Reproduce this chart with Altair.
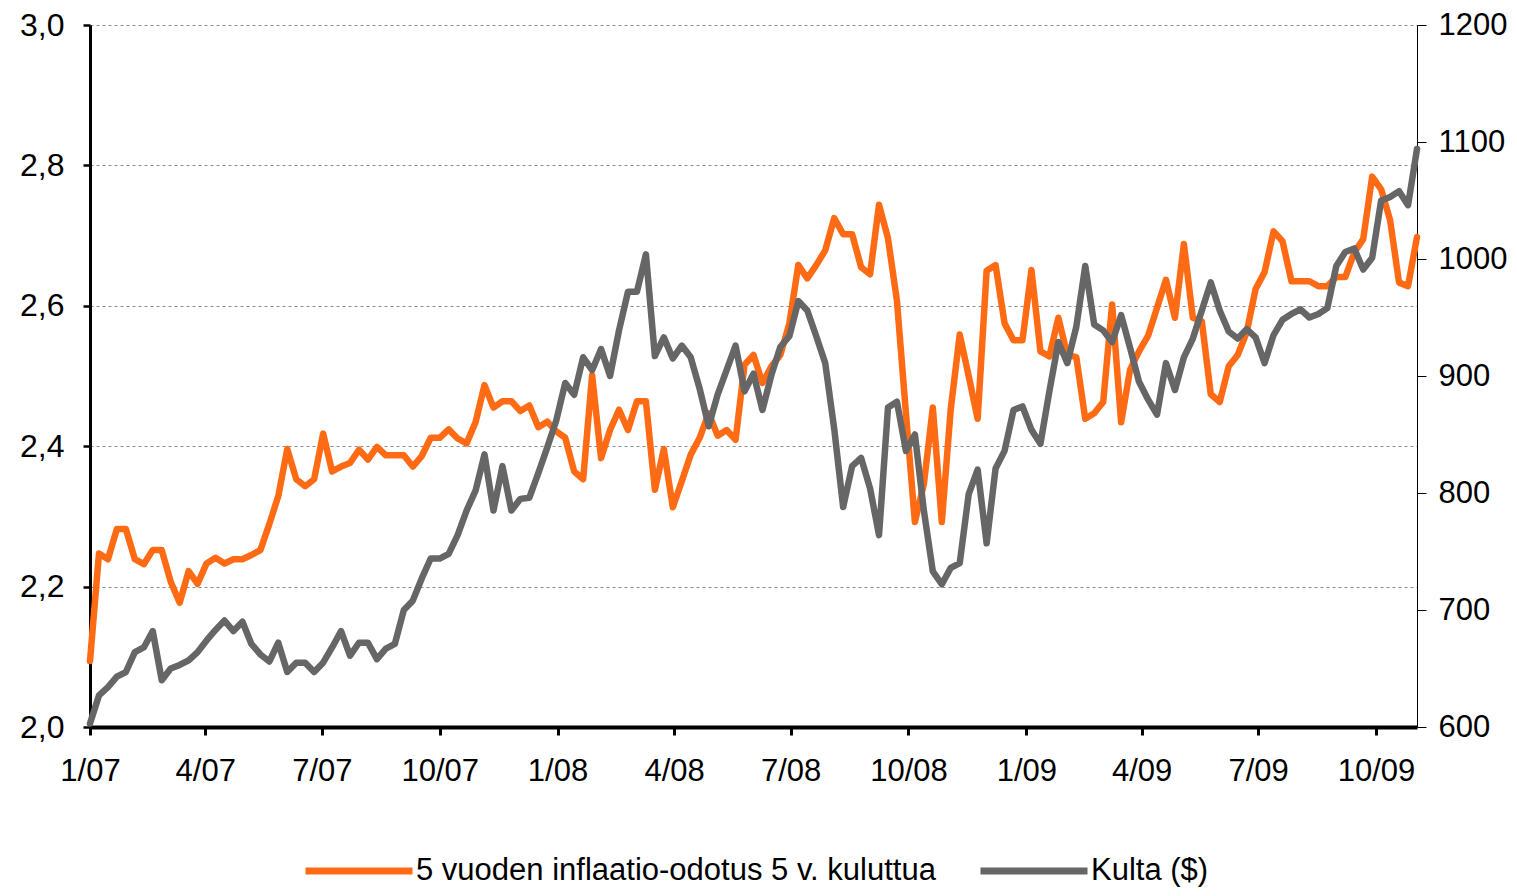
import altair as alt
import pandas as pd

ORANGE_LABEL = "5 vuoden inflaatio-odotus 5 v. kuluttua"
GOLD_LABEL = "Kulta ($)"
ORANGE = "#FF6B14"
GRAY = "#666666"
FONT = "Liberation Sans, Arial, sans-serif"

# 5y5y inflation expectation (%), weekly
inflation = [
    2.094, 2.247, 2.239, 2.282, 2.282, 2.239, 2.232, 2.252, 2.252, 2.207,
    2.177, 2.222, 2.204, 2.233, 2.241, 2.233, 2.239, 2.239, 2.245, 2.252,
    2.289, 2.329, 2.396, 2.353, 2.343, 2.353, 2.418, 2.364, 2.371, 2.376,
    2.395, 2.381, 2.399, 2.387, 2.387, 2.387, 2.371, 2.386, 2.412, 2.412,
    2.424, 2.411, 2.404, 2.434, 2.487, 2.455, 2.464, 2.464, 2.450, 2.458,
    2.427, 2.435, 2.421, 2.412, 2.364, 2.353, 2.501, 2.383, 2.423, 2.452,
    2.423, 2.464, 2.464, 2.338, 2.396, 2.313, 2.350, 2.388, 2.412, 2.447,
    2.415, 2.423, 2.409, 2.516, 2.530, 2.490, 2.514, 2.530, 2.575, 2.658,
    2.639, 2.658, 2.679, 2.725, 2.702, 2.702, 2.655, 2.645, 2.744, 2.696,
    2.607, 2.447, 2.292, 2.346, 2.455, 2.292, 2.453, 2.559, 2.500, 2.439,
    2.650, 2.658, 2.575, 2.551, 2.551, 2.651, 2.535, 2.528, 2.583, 2.530,
    2.527, 2.439, 2.447, 2.463, 2.602, 2.434, 2.509, 2.535, 2.557, 2.597,
    2.637, 2.583, 2.688, 2.583, 2.578, 2.474, 2.463, 2.514, 2.530, 2.562,
    2.624, 2.648, 2.706, 2.692, 2.635, 2.635, 2.635, 2.628, 2.628, 2.641,
    2.641, 2.676, 2.695, 2.784, 2.766, 2.722, 2.633, 2.628, 2.698,
]

# Gold price (USD), weekly
gold = [
    603, 627, 634, 643, 647, 664, 668, 682, 640, 650,
    653, 657, 664, 674, 683, 691, 682, 690, 671, 662,
    656, 672, 647, 655, 655, 647, 655, 668, 682, 661,
    672, 672, 658, 667, 671, 700, 708, 727, 744, 744,
    748, 764, 785, 802, 833, 785, 823, 785, 795, 796,
    817, 839, 862, 894, 884, 916, 905, 923, 900, 939,
    972, 972, 1004, 917, 933, 915, 926, 916, 889, 857,
    884, 905, 926, 887, 902, 871, 901, 925, 934, 964,
    956, 934, 911, 855, 788, 823, 830, 804, 764, 873,
    878, 836, 850, 785, 733, 722, 736, 740, 799, 820,
    757, 821, 836, 871, 874, 854, 842, 887, 929, 911,
    942, 994, 944, 939, 929, 952, 924, 895, 880, 867,
    911, 888, 916, 932, 956, 980, 956, 938, 932, 940,
    933, 911, 935, 948, 953, 957, 950, 953, 958, 994,
    1006, 1009, 991, 1001, 1050, 1053, 1058, 1046, 1094,
]

n = len(inflation)
dates = pd.date_range("2007-01-01", periods=n, freq="7D")
date_str = [d.strftime("%Y-%m-%d") for d in dates]

quarter_ticks = [
    "2007-01-01", "2007-04-01", "2007-07-01", "2007-10-01",
    "2008-01-01", "2008-04-01", "2008-07-01", "2008-10-01",
    "2009-01-01", "2009-04-01", "2009-07-01", "2009-10-01",
]
left_ticks = [2.0, 2.2, 2.4, 2.6, 2.8, 3.0]
right_ticks = [600, 700, 800, 900, 1000, 1100, 1200]


def ms(s):
    return int(pd.Timestamp(s, tz="UTC").timestamp() * 1000)


tick_ms = [ms(t) for t in quarter_ticks]
domain_ms = [ms(date_str[0]), ms(date_str[-1])]

df = pd.DataFrame({
    "date": date_str * 2,
    "series": [ORANGE_LABEL] * n + [GOLD_LABEL] * n,
    "value": inflation + [float(g) for g in gold],
})

legend = alt.Legend(
    title=None, orient="none", legendX=212, legendY=789, direction="horizontal",
    symbolType="stroke", symbolSize=11449, symbolStrokeWidth=7,
    labelFontSize=31, labelFont=FONT, labelColor="black", labelLimit=1000,
    columnPadding=30, labelOffset=0, padding=0,
)

base = alt.Chart(df).encode(
    x=alt.X(
        "date:T",
        scale=alt.Scale(type="utc", domain=domain_ms),
        axis=alt.Axis(
            values=tick_ms, labelExpr="utcFormat(datum.value, '%-m/%y')",
            title=None, grid=False, domainColor="black", domainWidth=4,
            tickColor="black", tickWidth=3, tickSize=8, labelFontSize=31,
            labelFont=FONT, labelColor="black", labelPadding=21,
            labelFlush=False, labelOverlap=False,
        ),
    ),
    color=alt.Color(
        "series:N",
        scale=alt.Scale(domain=[ORANGE_LABEL, GOLD_LABEL], range=[ORANGE, GRAY]),
        legend=legend,
    ),
)

infl_line = base.transform_filter(alt.datum.series == ORANGE_LABEL).mark_line(
    strokeWidth=6.5, strokeJoin="round", strokeCap="round"
).encode(
    y=alt.Y(
        "value:Q",
        scale=alt.Scale(domain=[2.0, 3.0], nice=False, zero=False),
        axis=alt.Axis(
            orient="left", values=left_ticks, title=None,
            labelExpr="replace(format(datum.value, '.1f'), '.', ',')",
            grid=True, gridColor="#8c8c8c", gridDash=[3, 3], gridWidth=1,
            domainColor="black", domainWidth=3, tickColor="black", tickWidth=2.5,
            tickSize=7, labelFontSize=32, labelFont=FONT, labelColor="black",
            labelPadding=19,
        ),
    )
)

gold_line = base.transform_filter(alt.datum.series == GOLD_LABEL).mark_line(
    strokeWidth=6.5, strokeJoin="round", strokeCap="round"
).encode(
    y=alt.Y(
        "value:Q",
        scale=alt.Scale(domain=[600, 1200], nice=False, zero=False),
        axis=alt.Axis(
            orient="right", values=right_ticks, title=None, format="d",
            grid=False, domainColor="black", domainWidth=1, tickColor="black",
            tickWidth=1, tickSize=9, labelFontSize=31, labelFont=FONT,
            labelColor="black", labelPadding=12,
        ),
    )
)

chart = alt.layer(infl_line, gold_line).resolve_scale(y="independent").properties(
    width=1327, height=702,
    autosize=alt.AutoSizeParams(type="none"),
    padding={"left": 82, "top": 17, "right": 92, "bottom": 161},
    background="white",
).configure_view(stroke=None)

chart.save("out.html", embed_options={"renderer": "svg", "actions": False})
